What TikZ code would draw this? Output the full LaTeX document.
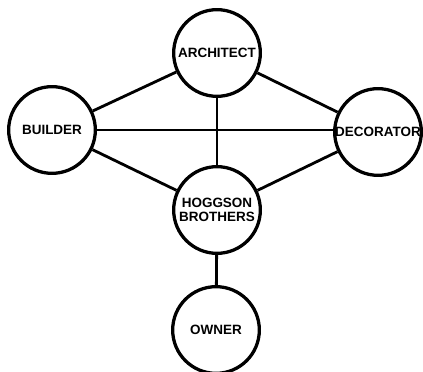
\documentclass[tikz,border=0pt]{standalone}
\usepackage{fontspec}
\setsansfont{Liberation Sans}
\usetikzlibrary{positioning}

\begin{document}
\begin{tikzpicture}[x=0.03cm, y=-0.03cm,
    line width=2.8pt,
    party/.style ={circle, draw, minimum size=2.6cm, inner sep=0pt,
    font=\sffamily\bfseries\fontsize{11.5}{13}\selectfont, align=center},
    link/.style={line width=2.4pt}
    ]
    \useasboundingbox (0,0) rectangle (423,372);
    \clip (0,0) rectangle (423,372);
    \node[party] (A) at (217,53) {ARCHITECT};
    \node[party] (B) at (52,130) {BUILDER};
    \node[party] (D) at (378,132) {DECORATOR};
    \node[party] (H) at (217,210) {HOGGSON\\[-1pt]BROTHERS};
    \node[party] (O) at (216,330) {OWNER};
    \draw[link] (A) to (B);
    \draw[link] (A) to (D);
    \draw[link] (B.east) to (B.east -| D.west);
    \draw[link] (A) to (H);
    \draw[link] (B) to (H);
    \draw[link] (D) to (H);
    \draw[link] (H) to (O);
    \end{tikzpicture}
\end{document}
